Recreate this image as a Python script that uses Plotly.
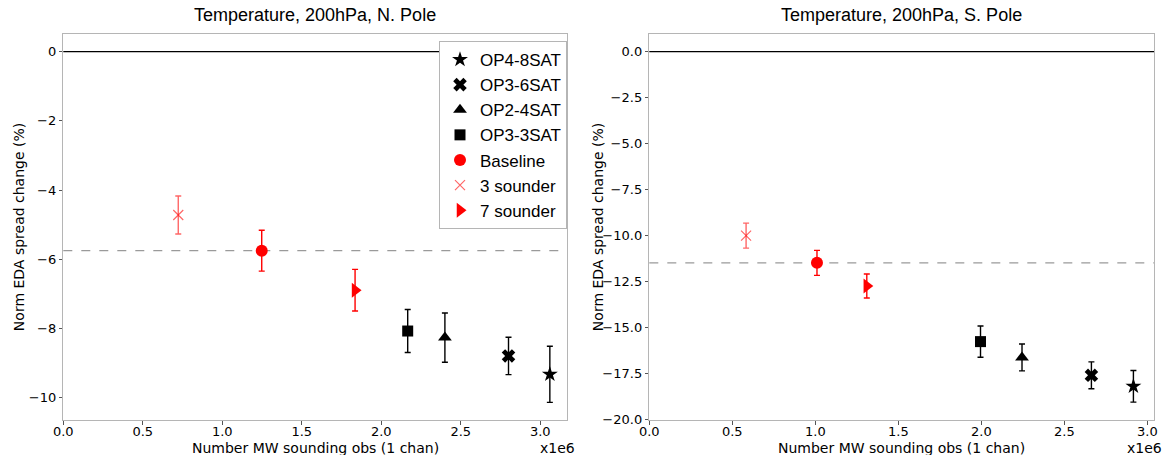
import plotly.graph_objects as go

# ---- data (x in number of obs, y in %) ----
series_names = ["OP4-8SAT", "OP3-6SAT", "OP2-4SAT", "OP3-3SAT", "Baseline", "3 sounder", "7 sounder"]
series_symbols = ["star", "x", "triangle-up", "square", "circle", "x-thin", "triangle-right"]
series_colors = ["black", "black", "black", "black", "red", "rgba(255,0,0,0.6)", "red"]

# N. Pole
north_x = [3.06e6, 2.80e6, 2.40e6, 2.166e6, 1.248e6, 0.723e6, 1.835e6]
north_y = [-9.32, -8.79, -8.26, -8.07, -5.75, -4.72, -6.89]
north_err = [0.81, 0.54, 0.71, 0.62, 0.59, 0.55, 0.60]

# S. Pole
south_x = [2.916e6, 2.663e6, 2.245e6, 1.995e6, 1.01e6, 0.583e6, 1.31e6]
south_y = [-18.19, -17.59, -16.62, -15.76, -11.48, -10.0, -12.74]
south_err = [0.86, 0.73, 0.73, 0.85, 0.68, 0.68, 0.65]

x_tickvals = [0, 0.5e6, 1.0e6, 1.5e6, 2.0e6, 2.5e6, 3.0e6]
x_ticktext = ["0.0", "0.5", "1.0", "1.5", "2.0", "2.5", "3.0"]
north_yticks = [0, -2, -4, -6, -8, -10]
north_yticktext = ["0", "\u22122", "\u22124", "\u22126", "\u22128", "\u221210"]
south_yticks = [0, -2.5, -5, -7.5, -10, -12.5, -15, -17.5, -20]
south_yticktext = ["0.0", "\u22122.5", "\u22125.0", "\u22127.5", "\u221210.0", "\u221212.5",
                   "\u221215.0", "\u221217.5", "\u221220.0"]

titles = ["Temperature, 200hPa, N. Pole", "Temperature, 200hPa, S. Pole"]
xlabel = "Number MW sounding obs (1 chan)"
ylabel = "Norm EDA spread change (%)"
zero_value = 0.0
baseline_index = 4

fig = go.Figure()

marker_sizes = [12, 12, 12, 11, 12, 10, 13]

for panel, (xs, ys, es) in enumerate([(north_x, north_y, north_err), (south_x, south_y, south_err)]):
    xa = "x" if panel == 0 else "x2"
    ya = "y" if panel == 0 else "y2"
    for i, name in enumerate(series_names):
        sym = series_symbols[i]
        col = series_colors[i]
        fig.add_trace(go.Scatter(
            x=[xs[i]], y=[ys[i]], mode="markers", name=name,
            xaxis=xa, yaxis=ya, showlegend=(panel == 0),
            marker=dict(symbol=sym, size=marker_sizes[i], color=col,
                        line=dict(width=1.2 if sym == "x-thin" else 0, color=col)),
            error_y=dict(type="data", array=[es[i]], visible=True, color=col,
                         thickness=1.4, width=3),
        ))
    # zero line and baseline dashed line
    fig.add_shape(type="line", xref=xa + " domain", yref=ya, x0=0, x1=1,
                  y0=zero_value, y1=zero_value, line=dict(color="black", width=1.3), layer="below")
    fig.add_shape(type="line", xref=xa + " domain", yref=ya, x0=0, x1=1,
                  y0=ys[baseline_index], y1=ys[baseline_index],
                  line=dict(color="#9a9a9a", width=1.2, dash="dash"), layer="below")

W, H = 1169, 455
dom_y = [1 - 420 / H, 1 - 34.3 / H]
dom_x1 = [63.3 / W, 566.7 / W]
dom_x2 = [649.3 / W, 1154 / W]

axis_common = dict(showline=True, mirror=True, linecolor="#b5b5b5", linewidth=1,
                   ticks="outside", ticklen=3.5, tickcolor="#555555", showgrid=False,
                   zeroline=False, automargin=False,
                   tickfont=dict(family="DejaVu Sans", size=13, color="black"))

fig.update_layout(
    template="none",
    width=W, height=H, margin=dict(l=0, r=0, t=0, b=0, pad=0, autoexpand=False),
    plot_bgcolor="white", paper_bgcolor="white",
    xaxis=dict(domain=dom_x1, anchor="y", range=[0, 3.166e6], tickvals=x_tickvals,
               ticktext=x_ticktext, ticklabelstandoff=-4, **axis_common),
    yaxis=dict(domain=dom_y, anchor="x", range=[-10.64, 0.50], tickvals=north_yticks,
               ticktext=north_yticktext, **axis_common),
    xaxis2=dict(domain=dom_x2, anchor="y2", range=[0, 3.04e6], tickvals=x_tickvals,
                ticktext=x_ticktext, ticklabelstandoff=-4, **axis_common),
    yaxis2=dict(domain=dom_y, anchor="x2", range=[-20.02, 0.94], tickvals=south_yticks,
                ticktext=south_yticktext, **axis_common),
    legend=dict(x=567 / W, xanchor="right", y=1 - 41 / H, yanchor="top",
                bordercolor="#b5b5b5", borderwidth=1, bgcolor="white",
                font=dict(family="Liberation Sans", size=17, color="black"),
                itemwidth=30),
    showlegend=True,
)

annotations = []
for panel, dom in enumerate([dom_x1, dom_x2]):
    cx = (dom[0] + dom[1]) / 2
    annotations.append(dict(text=titles[panel], x=cx, y=1 - 15 / H, xref="paper", yref="paper",
                            showarrow=False, xanchor="center", yanchor="middle",
                            font=dict(family="Liberation Sans", size=18, color="black")))
    annotations.append(dict(text=xlabel, x=cx, y=1 - 447.5 / H, xref="paper", yref="paper",
                            showarrow=False, xanchor="center", yanchor="middle",
                            font=dict(family="DejaVu Sans", size=14, color="black")))
    annotations.append(dict(text="x1e6", x=dom[1] + 10 / W, y=1 - 447.5 / H, xref="paper", yref="paper",
                            showarrow=False, xanchor="right", yanchor="middle",
                            font=dict(family="DejaVu Sans", size=14, color="black")))
    ylab_x = 19 / W if panel == 0 else 598 / W
    annotations.append(dict(text=ylabel, x=ylab_x, y=(dom_y[0] + dom_y[1]) / 2, xref="paper",
                            yref="paper", showarrow=False, textangle=-90, xanchor="center",
                            yanchor="middle",
                            font=dict(family="DejaVu Sans", size=14, color="black")))
fig.update_layout(annotations=annotations)

fig.write_html("out.html")
